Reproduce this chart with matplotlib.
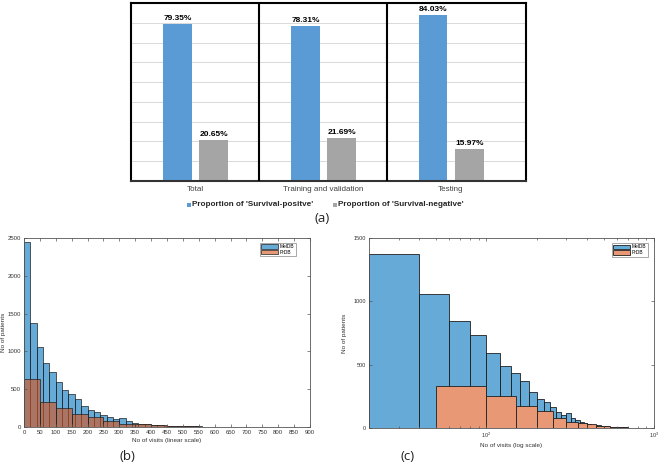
import numpy as np
import matplotlib
matplotlib.use('Agg')
import matplotlib.pyplot as plt
from matplotlib.patches import Rectangle
from matplotlib.ticker import NullFormatter, LogLocator

# ---------------- data ----------------
categories = ['Total', 'Training and validation', 'Testing']
positive = [79.35, 78.31, 84.03]
negative = [20.65, 21.69, 15.97]
legend_a = ["Proportion of 'Survival-positve'", "Proportion of 'Survival-negative'"]

# histogram counts (No of patients) per bin of No of visits
meldb_bin = 20
meldb_counts = [2440, 1375, 1058, 843, 733, 592, 487, 436, 370, 287,
                226, 207, 165, 130, 104, 120, 82, 62, 48, 40,
                33, 27, 22, 20, 16, 14, 12, 11, 9, 8,
                7, 6, 5, 5, 4, 3, 3, 2, 2, 2,
                1, 1, 1, 1, 1, 1, 1, 0, 1, 0]
prdb_bin = 50
prdb_counts = [634, 332, 249, 174, 132, 82, 50, 38, 28, 19,
               14, 9, 6, 4, 3, 2, 2, 1, 1, 1]
series_names = ['MelDB', 'PrDB']

# ---------------- figure ----------------
W, H = 660, 463
fig = plt.figure(figsize=(W / 100, H / 100), dpi=100)
plt.rcParams['font.family'] = ['Liberation Sans', 'DejaVu Sans']


def ax_px(l, t, r, b):
    return fig.add_axes([l / W, 1 - b / H, (r - l) / W, (b - t) / H])


# ---------------- (a) ----------------
ax = ax_px(131, 3, 526, 181)
x = np.arange(len(categories))
blue_a = '#5B9BD5'
gray_a = '#A5A5A5'
ax.bar(x + 0.364, positive, width=0.222, color=blue_a, zorder=2)
ax.bar(x + 0.648, negative, width=0.225, color=gray_a, zorder=2)
for xi, v in zip(x + 0.364, positive):
    ax.annotate(f'{v:.2f}%', (xi, v), xytext=(0, 3), textcoords='offset points',
                ha='center', va='baseline', fontsize=6, fontweight='bold',
                annotation_clip=False)
for xi, v in zip(x + 0.648, negative):
    ax.annotate(f'{v:.2f}%', (xi, v), xytext=(0, 3), textcoords='offset points',
                ha='center', va='baseline', fontsize=6, fontweight='bold',
                annotation_clip=False)
for yv in range(10, 90, 10):
    ax.axhline(yv, color='#D9D9D9', lw=0.7, zorder=0)
for xv in [1, 2]:
    ax.axvline(xv, color='black', lw=1.5, zorder=3)
ax.set_xlim(0, 3.09)
ax.set_ylim(0, 90)
ax.set_yticks([])
ax.set_xticks(x + 0.5, categories)
ax.tick_params(axis='x', length=0, pad=3.5, labelsize=5.8, labelcolor='#404040')
for s in ax.spines.values():
    s.set_linewidth(1.5)
    s.set_color('black')
ax.spines['bottom'].set_color('#333333')

# legend for (a)
ly = 1 - 205 / H
for (sx, tx, col, lab) in [(187, 192.5, blue_a, legend_a[0]), (333, 338, gray_a, legend_a[1])]:
    fig.add_artist(Rectangle((sx / W, ly - 2 / H), 4 / W, 4 / H, transform=fig.transFigure,
                             facecolor=col, edgecolor='none'))
    fig.text(tx / W, ly, lab, fontsize=5.9, fontweight='bold', va='center', ha='left',
             color='#262626')

# ---------------- (b) and (c) ----------------
blue = (0.0, 0.447, 0.741, 0.6)
orange = (0.85, 0.325, 0.098, 0.6)
orange_flat = tuple(0.6 * c + 0.4 for c in orange[:3])
edge = (0.12, 0.12, 0.12)
meldb_left = np.arange(len(meldb_counts)) * meldb_bin
prdb_left = np.arange(len(prdb_counts)) * prdb_bin


def style(a, fs):
    a.tick_params(which='both', direction='in', top=True, right=True, width=0.5,
                  labelsize=fs, colors='#555555', labelcolor='#333333', pad=2)
    a.tick_params(which='major', length=2.5)
    a.tick_params(which='minor', length=1.5)
    for s in a.spines.values():
        s.set_linewidth(0.6)
        s.set_color('#555555')


axb = ax_px(24, 237.7, 310, 427.3)
axb.bar(meldb_left, meldb_counts, width=meldb_bin, align='edge', facecolor=blue,
        edgecolor=edge, lw=0.5, label=series_names[0])
axb.bar(prdb_left, prdb_counts, width=prdb_bin, align='edge', facecolor=orange,
        edgecolor=edge, lw=0.5, label=series_names[1])
axb.set_xlim(0, 900)
axb.set_ylim(0, 2500)
axb.set_xticks(np.arange(0, 901, 50))
axb.set_yticks(np.arange(0, 2501, 500))
style(axb, 4.3)
axb.set_xlabel('No of visits (linear scale)', fontsize=4.6, labelpad=2, color='#333333')
axb.set_ylabel('No of patients', fontsize=4.6, labelpad=1, color='#333333')
lg = axb.legend(loc='upper right', bbox_to_anchor=(1 - 14 / 286, 1 - 5 / 190),
                borderaxespad=0, fontsize=3.5, handlelength=3.5, handleheight=1.0,
                handletextpad=0.3, labelspacing=0.15, borderpad=0.3, fancybox=False)
lg.get_frame().set_linewidth(0.5)
lg.get_frame().set_edgecolor('#666666')

axc = ax_px(369, 238, 654, 428)
axc.set_xscale('log')
axc.bar(meldb_left[1:], meldb_counts[1:], width=meldb_bin, align='edge', facecolor=blue,
        edgecolor=edge, lw=0.6, label=series_names[0])
axc.bar(prdb_left[1:], prdb_counts[1:], width=prdb_bin, align='edge', facecolor=orange_flat,
        edgecolor=edge, lw=0.6, label=series_names[1])
axc.set_xlim(20, 1000)
axc.set_ylim(0, 1500)
axc.set_yticks([0, 500, 1000, 1500])
axc.xaxis.set_major_locator(LogLocator(base=10, numticks=10))
axc.xaxis.set_minor_locator(LogLocator(base=10, subs=np.arange(2, 10), numticks=20))
axc.xaxis.set_minor_formatter(NullFormatter())
style(axc, 4.0)
axc.set_xlabel('No of visits (log scale)', fontsize=4.6, labelpad=2, color='#333333')
axc.set_ylabel('No of patients', fontsize=4.6, labelpad=5, color='#333333')
lg = axc.legend(loc='upper right', bbox_to_anchor=(1 - 6 / 285, 1 - 5 / 190),
                borderaxespad=0, fontsize=3.5, handlelength=3.5, handleheight=1.0,
                handletextpad=0.3, labelspacing=0.15, borderpad=0.3, fancybox=False)
lg.get_frame().set_linewidth(0.5)
lg.get_frame().set_edgecolor('#666666')

# panel letters
for (px, py, t) in [(322, 219, '(a)'), (127, 456, '(b)'), (408, 456, '(c)')]:
    fig.text(px / W, 1 - py / H, t, fontsize=9.5, ha='center', va='center',
             family=['Open Sans', 'DejaVu Sans'], color='#222222')

fig.savefig('out.png', dpi=100)
